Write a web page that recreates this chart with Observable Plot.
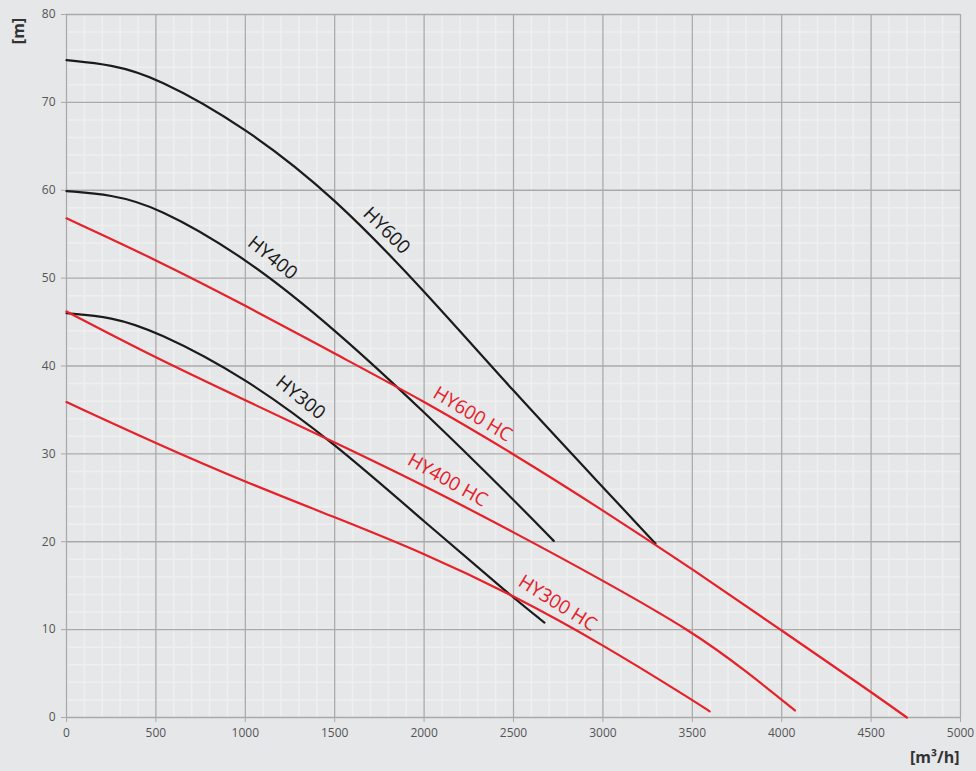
<!DOCTYPE html>
<html><head><meta charset="utf-8">
<script src="https://cdn.jsdelivr.net/npm/d3@7"></script>
<script src="https://cdn.jsdelivr.net/npm/@observablehq/plot@0.6"></script>
<style>
html,body{margin:0;padding:0;background:#e6e7e9;}
#chart{position:relative;width:976px;height:771px;}
.lab{position:absolute;font-family:"Open Sans",sans-serif;font-weight:bold;font-size:16px;color:#333;}
</style></head><body>
<div id="chart"></div>
<script>
const hy600 = [[0,74.8],[250,74.3],[500,72.9],[1000,67.2],[1500,59.2],[2000,48.6],[2500,37.1],[3000,26.2],[3294,19.8]];
const hy400 = [[0,59.9],[250,59.5],[500,58.2],[1000,52.4],[1500,44.2],[2000,34.8],[2500,24.8],[2725,20.1]];
const hy300 = [[0,46.0],[250,45.6],[500,44.0],[1000,38.7],[1500,31.2],[2000,22.3],[2500,13.6],[2673,10.8]];
const hy600hc = [[0,56.8],[500,52.1],[1000,46.9],[1500,41.4],[2000,36.0],[2500,30.0],[3000,23.6],[3500,16.9],[4000,9.9],[4500,2.9],[4700,0.0]];
const hy400hc = [[0,46.2],[500,40.9],[1000,36.1],[1500,31.3],[2000,26.4],[2500,21.1],[3000,15.6],[3500,9.8],[3800,5.3],[4074,0.8]];
const hy300hc = [[0,35.9],[500,31.2],[1000,26.8],[1500,22.8],[2000,18.7],[2500,13.9],[3000,8.3],[3500,2.0],[3597,0.7]];
const seriesNames = ["HY600","HY400","HY300","HY600 HC","HY400 HC","HY300 HC"];
const seriesData = [hy600, hy400, hy300, hy600hc, hy400hc, hy300hc];
const seriesColors = ["#1b1b1b","#1b1b1b","#1b1b1b","#e8202a","#e8202a","#e8202a"];
const labelX = [1790, 1152, 1309, 2271, 2131, 2746];
const labelY = [55.4, 52.3, 36.4, 34.5, 27.0, 13.0];
const labelAngle = [45, 39, 39, 31, 29.5, 32];
const xTicks = [0,500,1000,1500,2000,2500,3000,3500,4000,4500,5000];
const yTicks = [0,10,20,30,40,50,60,70,80];
const xMinor = d3.range(0, 5001, 100);
const yMinor = d3.range(0, 81, 2);

const labels = seriesNames.map((n,i)=>({name:n, x:labelX[i], y:labelY[i], a:labelAngle[i], color:seriesColors[i]}));

const plot = Plot.plot({
  width: 976, height: 771,
  marginLeft: 66, marginRight: 16, marginTop: 14, marginBottom: 54,
  style: {background: "#e6e7e9", fontFamily: "'Open Sans', sans-serif", fontSize: "12px", color: "#555"},
  x: {domain: [0, 5000], label: null},
  y: {domain: [0, 80], label: null},
  marks: [
    Plot.ruleX(xMinor, {stroke: "#efefef", strokeWidth: 1.5}),
    Plot.ruleY(yMinor, {stroke: "#efefef", strokeWidth: 1.5}),
    Plot.ruleX(xTicks, {stroke: "#a9a9a9", strokeWidth: 1.3}),
    Plot.ruleY(yTicks, {stroke: "#a9a9a9", strokeWidth: 1.3}),
    Plot.axisX({ticks: xTicks, tickFormat: d=>String(d), tickSize: 5, tickPadding: 6, stroke: "#a9a9a9", color: "#555", label: null}),
    Plot.axisY({ticks: yTicks, tickFormat: d=>String(d), tickSize: 5, tickPadding: 6, stroke: "#a9a9a9", color: "#555", label: null}),
    ...seriesNames.map((n,i)=>Plot.line(seriesData[i], {x: d=>d[0], y: d=>d[1], stroke: seriesColors[i], strokeWidth: 2.2, curve: "basis"})),
    ...labels.map(l=>Plot.text([l], {x:"x", y:"y", text:"name", rotate: l.a, fill: l.color, fontSize: 19, fontFamily: "'Open Sans', sans-serif", stroke: "none"}))
  ]
});
document.getElementById("chart").appendChild(plot);
const m = document.createElement("div"); m.className="lab"; m.textContent="[m]";
m.style.left="5px"; m.style.top="20px"; m.style.transform="rotate(-90deg)"; m.style.transformOrigin="center";
document.getElementById("chart").appendChild(m);
const q = document.createElement("div"); q.className="lab"; q.textContent="[m³/h]";
q.style.left="910px"; q.style.top="746px";
document.getElementById("chart").appendChild(q);
</script></body></html>
